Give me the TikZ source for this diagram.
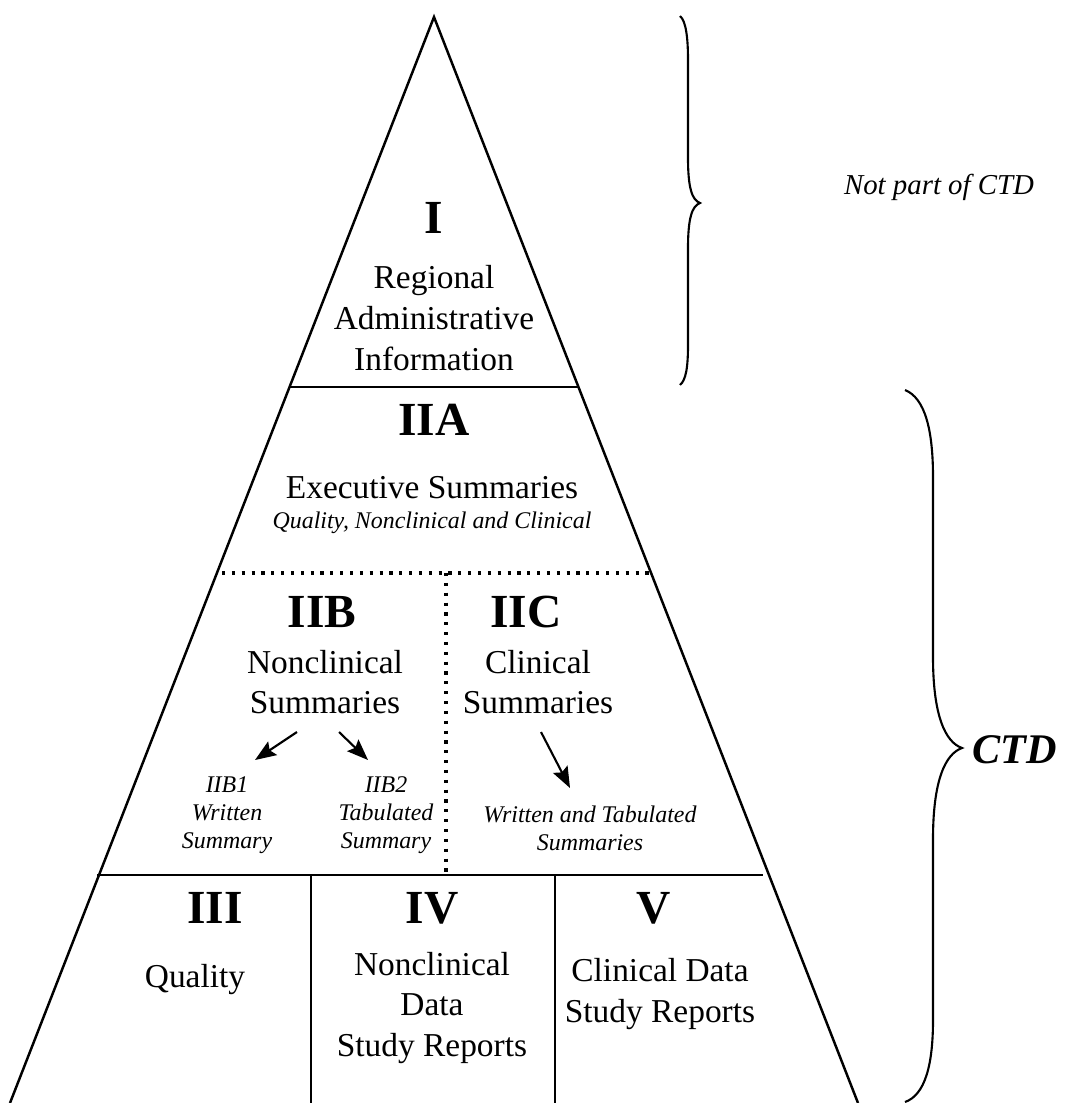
\documentclass[tikz,border=0pt]{standalone}
\usepackage{fontspec}
\setmainfont{Liberation Serif}
\usepackage{tikz}
\usetikzlibrary{arrows.meta}
\usetikzlibrary{calc}

\tikzset{
	secnum/.style={font=\fontsize{13.5}{14}\selectfont\bfseries, inner sep=0pt},
	sectext/.style={font=\fontsize{9.5}{11.6}\selectfont, align=center, inner sep=0pt},
	subtext/.style={font=\fontsize{6.8}{8}\selectfont\itshape, align=center, inner sep=0pt},
	divider/.style={line width=0.7pt},
	dotdiv/.style={line width=0.9pt, dash pattern=on 0.9pt off 1.9pt},
	pointer/.style={line width=0.6pt, -{Stealth[length=6pt,width=4.6pt,inset=1pt]}},
	bracket/.style={line width=0.6pt}
}

\begin{document}
\begin{tikzpicture}[x=0.01cm,y=-0.01cm]
		\useasboundingbox (0,0) rectangle (1066,1103);
		\coordinate (apex) at (434,17);
		\coordinate (baseL) at (10,1103);
		\coordinate (baseR) at (858,1103);
		\draw[divider] (baseL) -- (apex) -- (baseR);
		\draw[divider] (290,387) -- (578,387);
		\draw[dotdiv] (222,573) -- (652,573);
		\draw[dotdiv] (446,573) -- (446,875);
		\draw[divider] (97,875) -- (763,875);
		\draw[divider] (311,875) -- (311,1103);
		\draw[divider] (555,875) -- (555,1103);

		\node[secnum] (numI) at (434,218) {I};
		\node[sectext] (regional) at (434,318) {Regional\\Administrative\\Information};
		\node[secnum] (numIIA) at (434,420) {IIA};
		\node[sectext] (exec) at (432,488) {Executive Summaries};
		\node[subtext] (execsub) at (432,523) {Quality, Nonclinical and Clinical};

		\node[secnum] (numIIB) at (322,612) {IIB};
		\node[sectext] (nonclinsum) at (325,682) {Nonclinical\\Summaries};
		\node[subtext] (iib1) at (227,815) {IIB1\\Written\\Summary};
		\node[subtext] (iib2) at (386,815) {IIB2\\Tabulated\\Summary};
		\coordinate (b1s) at (297,732);
		\coordinate (b1e) at (255,760);
		\coordinate (b2s) at (339,732);
		\coordinate (b2e) at (368,760);
		\draw[pointer] (b1s) -- (b1e);
		\draw[pointer] (b2s) -- (b2e);

		\node[secnum] (numIIC) at (526,612) {IIC};
		\node[sectext] (clinsum) at (538,682) {Clinical\\Summaries};
		\node[subtext] (writtab) at (590,828) {Written and Tabulated\\Summaries};
		\coordinate (cs) at (541,732);
		\coordinate (ce) at (570,788);
		\draw[pointer] (cs) -- (ce);

		\node[secnum] (numIII) at (215,908) {III};
		\node[sectext] (quality) at (195,980) {Quality};
		\node[secnum] (numIV) at (432,908) {IV};
		\node[sectext] (nonclindata) at (432,1008) {Nonclinical\\Data\\Study Reports};
		\node[secnum] (numV) at (654,908) {V};
		\node[sectext] (clindata) at (660,994) {Clinical Data\\Study Reports};

		\draw[bracket] (680,16) .. controls (686,21) and (688,38) .. (688,60) -- (688,158)
			.. controls (688,188) and (692,200) .. (700,203)
			.. controls (692,206) and (688,218) .. (688,248) -- (688,345)
			.. controls (688,367) and (686,380) .. (680,385);
		\node[font=\fontsize{8.2}{10}\selectfont\itshape] (notctd) at (939,187) {Not part of CTD};

		\draw[bracket] (905,390) .. controls (925,398) and (933,430) .. (933,477) -- (933,657)
			.. controls (933,715) and (945,742) .. (962,748)
			.. controls (945,754) and (933,781) .. (933,839) -- (933,1020)
			.. controls (933,1065) and (925,1095) .. (905,1102);
		\node[font=\fontsize{12}{14}\selectfont\bfseries\itshape] (ctd) at (1015,750) {CTD};
	\end{tikzpicture}
\end{document}
